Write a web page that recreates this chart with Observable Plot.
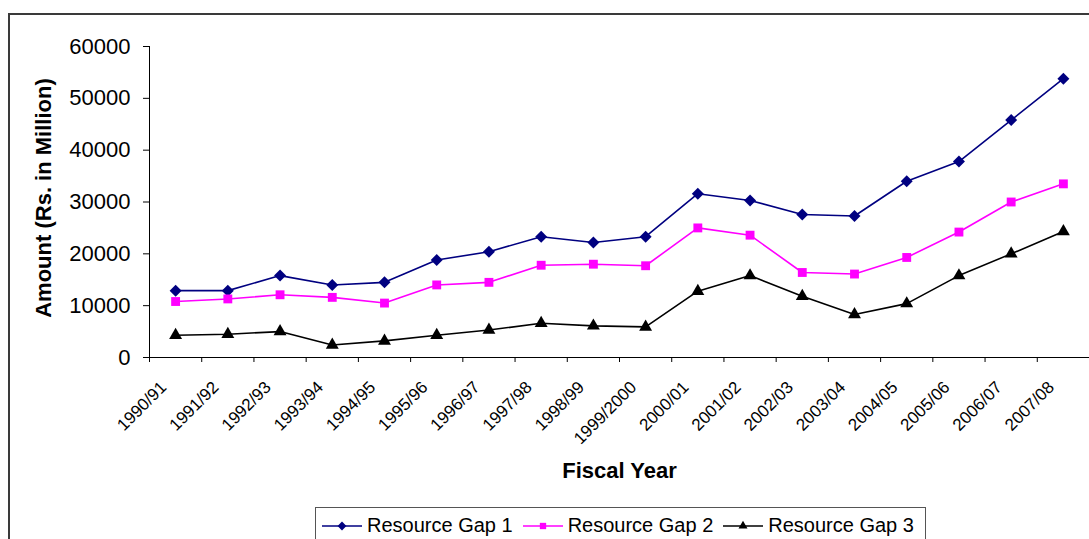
<!DOCTYPE html>
<html>
<head>
<meta charset="utf-8">
<script src="https://cdn.jsdelivr.net/npm/d3@7"></script>
<script src="https://cdn.jsdelivr.net/npm/@observablehq/plot@0.6"></script>
<style>
  html, body { margin: 0; padding: 0; background: #fff; }
  body { width: 1089px; height: 539px; position: relative; overflow: hidden; font-family: "Liberation Sans", Arial, sans-serif; }
  #frame { position: absolute; left: 8px; top: 13px; width: 1200px; height: 700px; border: 2px solid #3a3a3a; box-sizing: border-box; }
  #chart { position: absolute; left: 0; top: 0; }
  #legend { position: absolute; left: 315px; top: 507px; width: 611px; height: 60px; border: 1px solid #555; box-sizing: border-box; display: flex; align-items: flex-start; padding-left: 6px; padding-top: 6px; }
  .item { display: flex; align-items: center; margin-right: 10px; font-size: 20px; color: #000; }
  .item svg { margin-right: 5px; }
</style>
</head>
<body>
<div id="frame"></div>
<div id="chart"></div>
<div id="legend"></div>
<script>
const years = ["1990/91","1991/92","1992/93","1993/94","1994/95","1995/96","1996/97","1997/98","1998/99","1999/2000","2000/01","2001/02","2002/03","2003/04","2004/05","2005/06","2006/07","2007/08"];
const gap1 = [12900,12900,15800,14000,14500,18800,20400,23300,22200,23300,31600,30300,27600,27300,34000,37800,45800,53800];
const gap2 = [10800,11300,12100,11600,10500,14000,14500,17800,18000,17700,25000,23600,16400,16100,19300,24200,30000,33500];
const gap3 = [4300,4500,5000,2400,3200,4300,5300,6600,6100,5900,12800,15800,11800,8300,10400,15800,20000,24300];
const seriesNames = ["Resource Gap 1","Resource Gap 2","Resource Gap 3"];
const seriesColors = ["#000080","#ff00ff","#000000"];
const seriesSymbols = ["diamond2","square","triangle"];
const yTicks = [0,10000,20000,30000,40000,50000,60000];
const yTitle = "Amount (Rs. in Million)";
const xTitle = "Fiscal Year";

const rows = (vals) => years.map((y, i) => ({i, year: y, v: vals[i]}));
const allSeries = [gap1, gap2, gap3].map(rows);
const sizes = [5.4, 5, 4.8];

const marks = [
  Plot.ruleY([0], {stroke: "#000", strokeWidth: 1}),
  Plot.ruleX([0], {stroke: "#000", strokeWidth: 1}),
  Plot.axisY({ticks: yTicks, tickSize: 6, tickPadding: 13, fontSize: 22, tickFormat: d3.format("d"), label: null}),
  Plot.axisX(d3.range(years.length + 1), {tickSize: 5, tickFormat: () => "", label: null}),
  Plot.axisX(years.map((y, i) => i + 0.5), {tickSize: 0, tickPadding: 27, dx: -12, tickRotate: -45, fontSize: 17,
    tickFormat: d => years[Math.floor(d)], label: null}),
  Plot.text([yTitle], {text: d => d, frameAnchor: "left", textAnchor: "middle", lineAnchor: "middle", rotate: -90, dx: -106, dy: -4, fontWeight: "bold", fontSize: 22}),
  Plot.text([xTitle], {text: d => d, frameAnchor: "bottom", textAnchor: "middle", lineAnchor: "middle", dy: 113, fontWeight: "bold", fontSize: 22})
];
allSeries.forEach((data, k) => {
  marks.push(Plot.line(data, {x: d => d.i + 0.5, y: "v", stroke: seriesColors[k], strokeWidth: 1.6}));
  marks.push(Plot.dot(data, {x: d => d.i + 0.5, y: "v", symbol: seriesSymbols[k], r: sizes[k], fill: seriesColors[k], stroke: "none"}));
});

const chart = Plot.plot({
  width: 1089,
  height: 500,
  marginLeft: 149,
  marginRight: 0,
  marginTop: 46,
  marginBottom: 143,
  style: {fontFamily: "'Liberation Sans', Arial, sans-serif", fontSize: "21px", background: "transparent", overflow: "visible", color: "#000"},
  x: {type: "linear", domain: [0, years.length], axis: null},
  y: {domain: [0, 60000], axis: null},
  marks
});
document.getElementById("chart").appendChild(chart);

// legend
const legend = document.getElementById("legend");
seriesNames.forEach((name, k) => {
  const item = document.createElement("div");
  item.className = "item";
  const ns = "http://www.w3.org/2000/svg";
  const svg = document.createElementNS(ns, "svg");
  svg.setAttribute("width", 40); svg.setAttribute("height", 20);
  const line = document.createElementNS(ns, "line");
  line.setAttribute("x1", 0); line.setAttribute("x2", 40); line.setAttribute("y1", 10); line.setAttribute("y2", 10);
  line.setAttribute("stroke", seriesColors[k]); line.setAttribute("stroke-width", 1.6);
  svg.appendChild(line);
  const sym = d3.symbol(k === 0 ? d3.symbolDiamond2 : k === 1 ? d3.symbolSquare : d3.symbolTriangle, k === 0 ? 50 : k === 1 ? 40 : 35)();
  const p = document.createElementNS(ns, "path");
  p.setAttribute("d", sym); p.setAttribute("transform", "translate(20,10)"); p.setAttribute("fill", seriesColors[k]);
  svg.appendChild(p);
  item.appendChild(svg);
  const t = document.createElement("span");
  t.textContent = name;
  item.appendChild(t);
  legend.appendChild(item);
});
</script>
</body>
</html>
